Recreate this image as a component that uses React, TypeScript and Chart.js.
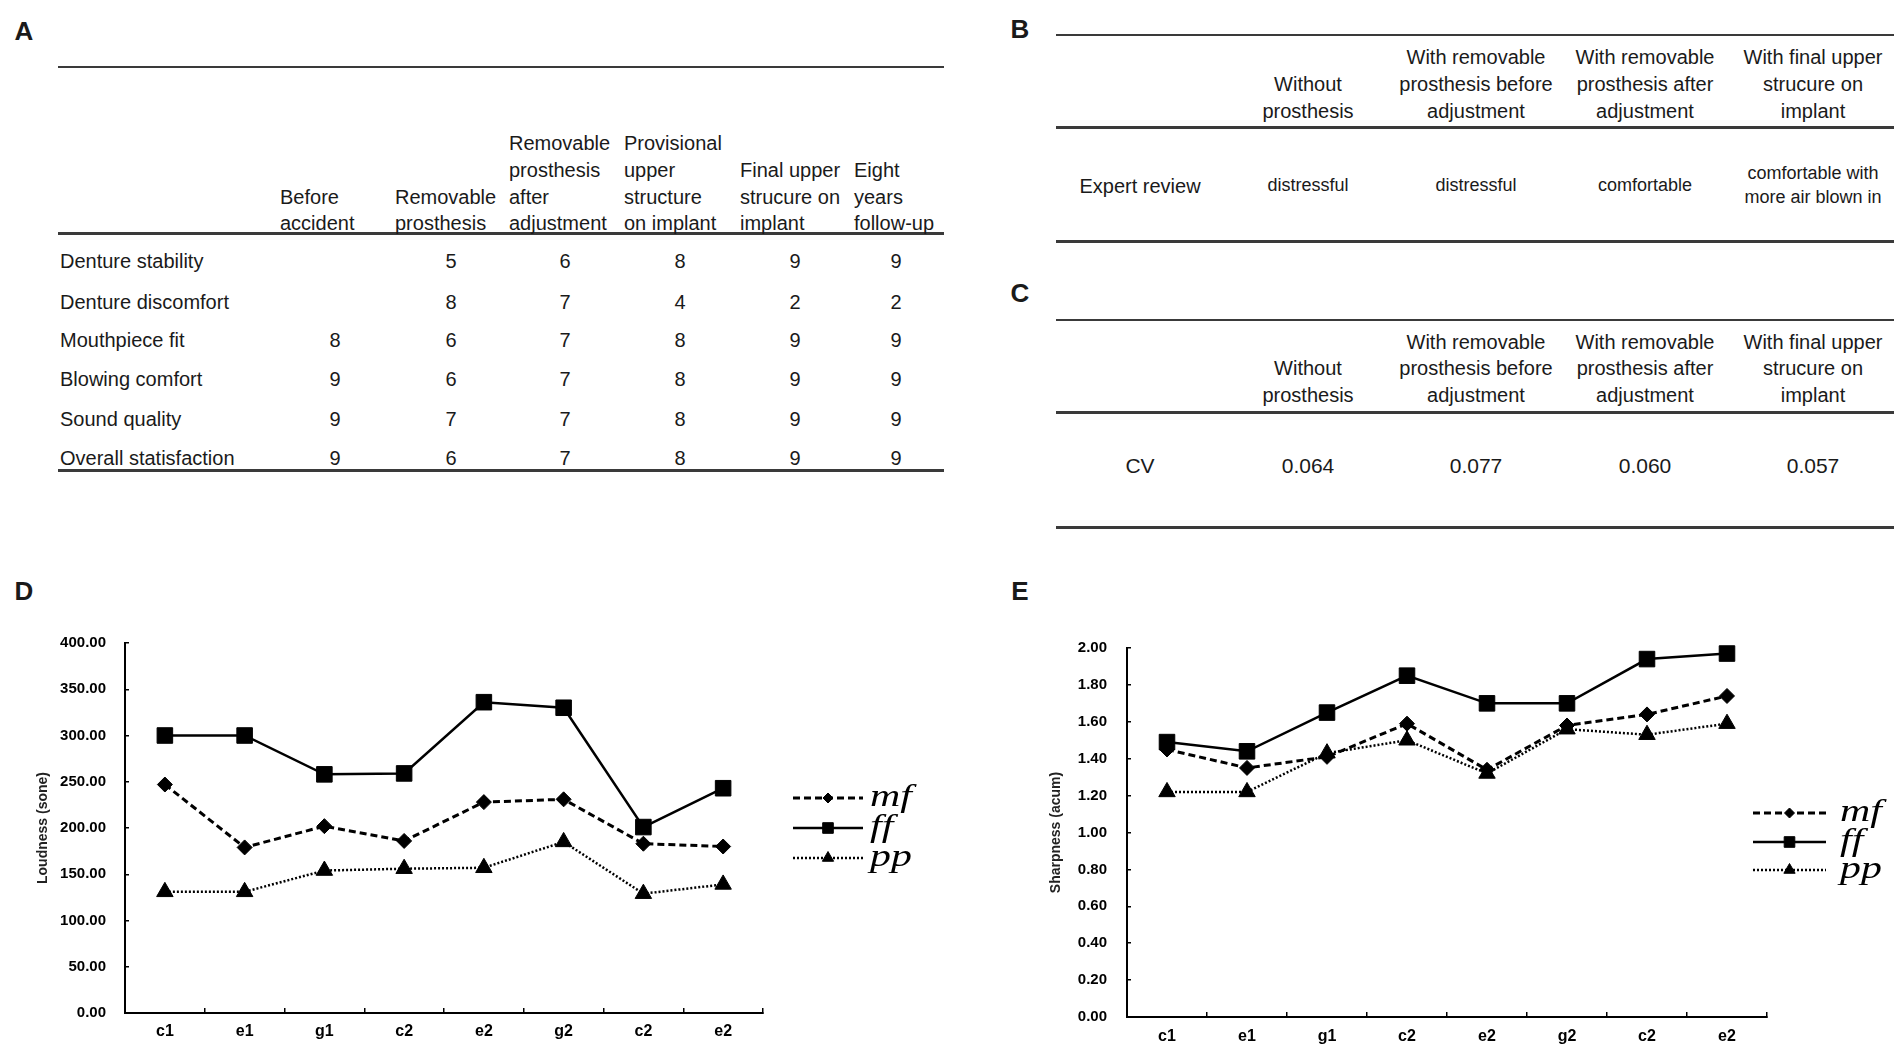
import React, { useEffect, useRef } from 'react';
import { Chart, registerables } from 'chart.js';
import { drawPoint } from 'chart.js/helpers';

Chart.register(...registerables);

// ---------------- Data ----------------
const panelLetters = ['A', 'B', 'C', 'D', 'E'];

const tableAHeaders = [
  ['Before', 'accident'],
  ['Removable', 'prosthesis'],
  ['Removable', 'prosthesis', 'after', 'adjustment'],
  ['Provisional', 'upper', 'structure', 'on implant'],
  ['Final upper', 'strucure on', 'implant'],
  ['Eight', 'years', 'follow-up'],
];
const tableARows = [
  'Denture stability',
  'Denture discomfort',
  'Mouthpiece fit',
  'Blowing comfort',
  'Sound quality',
  'Overall statisfaction',
];
const tableAValues = [
  ['', '5', '6', '8', '9', '9'],
  ['', '8', '7', '4', '2', '2'],
  ['8', '6', '7', '8', '9', '9'],
  ['9', '6', '7', '8', '9', '9'],
  ['9', '7', '7', '8', '9', '9'],
  ['9', '6', '7', '8', '9', '9'],
];

const conditionHeaders = [
  ['Without', 'prosthesis'],
  ['With removable', 'prosthesis before', 'adjustment'],
  ['With removable', 'prosthesis after', 'adjustment'],
  ['With final upper', 'strucure on', 'implant'],
];
const tableBRowLabel = 'Expert review';
const tableBValues = [['distressful'], ['distressful'], ['comfortable'], ['comfortable with', 'more air blown in']];
const tableCRowLabel = 'CV';
const tableCValues = ['0.064', '0.077', '0.060', '0.057'];

const noteLabels = ['c1', 'e1', 'g1', 'c2', 'e2', 'g2', 'c2', 'e2'];
const seriesNames = ['mf', 'ff', 'pp'];

const loudnessMf = [247, 179, 202, 186, 228, 231, 183, 180];
const loudnessFf = [300, 300, 258, 259, 336, 330, 201, 243];
const loudnessPp = [131, 131, 154, 156, 157, 185, 129, 139];

const sharpnessMf = [1.45, 1.35, 1.41, 1.59, 1.34, 1.58, 1.64, 1.74];
const sharpnessFf = [1.49, 1.44, 1.65, 1.85, 1.70, 1.70, 1.94, 1.97];
const sharpnessPp = [1.22, 1.22, 1.43, 1.50, 1.32, 1.56, 1.53, 1.59];

// ---------------- Styles ----------------
const SANS = '"Liberation Sans", Arial, sans-serif';
const AXIS_FONT = '"Liberation Sans Narrow", "Liberation Sans", Arial, sans-serif';
const TEXT = '#1a1a1a';
const RULE = '#3a3a3a';

const seriesStyles = [
  { dash: [7, 4], width: 3, point: 'rectRot', radius: 7.5, legendRadius: 5 },
  { dash: [], width: 2.5, point: 'rect', radius: 11, legendRadius: 7.5 },
  { dash: [2, 2], width: 2.5, point: 'triangle', radius: 9.5, legendRadius: 6.5 },
];

// ---------------- Helpers ----------------
type TxtProps = { x: number; y: number; text: string; align?: 'left' | 'center'; size?: number; weight?: number };
function Txt({ x, y, text, align = 'left', size = 20, weight = 400 }: TxtProps) {
  const w = 400;
  return (
    <div
      style={{
        position: 'absolute',
        left: align === 'center' ? x - w / 2 : x,
        top: y - size * 0.62,
        width: align === 'center' ? w : undefined,
        textAlign: align,
        fontSize: size,
        lineHeight: `${size * 1.2}px`,
        fontWeight: weight,
        fontFamily: SANS,
        color: TEXT,
        whiteSpace: 'nowrap',
      }}
    >
      {text}
    </div>
  );
}

function Rule({ x1, x2, y, h = 2 }: { x1: number; x2: number; y: number; h?: number }) {
  return <div style={{ position: 'absolute', left: x1, top: y - h / 2, width: x2 - x1, height: h, background: RULE }} />;
}

type ChartCfg = {
  left: number;
  top: number;
  width: number;
  height: number;
  padTop: number;
  padRight: number;
  yWidth: number;
  xHeight: number;
  yPad: number;
  xPad: number;
  titlePad: number;
  yMax: number;
  yStep: number;
  yTitle: string;
  series: number[][];
  legend: { x1: number; x2: number; tx: number; ys: number[] };
};

function LineChart({ cfg }: { cfg: ChartCfg }) {
  const ref = useRef<HTMLCanvasElement | null>(null);
  useEffect(() => {
    if (!ref.current) return;
    const legendPlugin = {
      id: 'sideLegend',
      afterDraw(chart: any) {
        const ctx = chart.ctx as CanvasRenderingContext2D;
        seriesNames.forEach((name, i) => {
          const st = seriesStyles[i];
          const y = cfg.legend.ys[i];
          ctx.save();
          ctx.strokeStyle = '#000';
          ctx.fillStyle = '#000';
          ctx.lineWidth = st.width;
          ctx.setLineDash(st.dash);
          ctx.beginPath();
          ctx.moveTo(cfg.legend.x1, y);
          ctx.lineTo(cfg.legend.x2, y);
          ctx.stroke();
          ctx.setLineDash([]);
          ctx.lineWidth = 1;
          drawPoint(ctx, { pointStyle: st.point as any, radius: st.legendRadius, borderWidth: 1, rotation: 0 } as any, (cfg.legend.x1 + cfg.legend.x2) / 2, y);
          ctx.font = 'italic 31px "Liberation Serif", "Times New Roman", serif';
          ctx.textBaseline = 'middle';
          ctx.textAlign = 'left';
          ctx.translate(cfg.legend.tx, y);
          ctx.scale(1.35, 1);
          ctx.fillText(name, 0, 0);
          ctx.restore();
        });
      },
    };
    const chart = new Chart(ref.current, {
      type: 'line',
      data: {
        labels: noteLabels,
        datasets: cfg.series.map((data, i) => ({
          label: seriesNames[i],
          data,
          borderColor: '#000',
          backgroundColor: '#000',
          borderWidth: seriesStyles[i].width,
          borderDash: seriesStyles[i].dash,
          pointStyle: seriesStyles[i].point as any,
          pointRadius: seriesStyles[i].radius,
          pointBackgroundColor: '#000',
          pointBorderColor: '#000',
          pointBorderWidth: 1,
          tension: 0,
          fill: false,
          clip: false as any,
        })),
      },
      options: {
        animation: false,
        responsive: false,
        maintainAspectRatio: false,
        events: [],
        layout: { padding: { left: 0, top: cfg.padTop, right: cfg.padRight, bottom: 0 } },
        plugins: { legend: { display: false }, tooltip: { enabled: false }, title: { display: false } },
        scales: {
          x: {
            type: 'category',
            offset: true,
            grid: { display: true, offset: true, drawOnChartArea: false, drawTicks: true, tickLength: -5, color: '#000', lineWidth: 1.5 },
            border: { display: true, color: '#000', width: 2 },
            ticks: { color: '#000', font: { family: AXIS_FONT, size: 16, weight: 'bold' }, padding: cfg.xPad, maxRotation: 0, autoSkip: false },
            afterFit: (s: any) => {
              s.height = cfg.xHeight;
            },
          },
          y: {
            min: 0,
            max: cfg.yMax,
            ticks: {
              stepSize: cfg.yStep,
              color: '#000',
              font: { family: AXIS_FONT, size: 15, weight: 'bold' },
              padding: cfg.yPad,
              callback: (v: any) => Number(v).toFixed(2),
            },
            grid: { display: true, drawOnChartArea: false, drawTicks: true, tickLength: -4, color: '#000', lineWidth: 1.5 },
            border: { display: true, color: '#000', width: 2 },
            title: {
              display: true,
              text: cfg.yTitle,
              color: '#222',
              font: { family: SANS, size: 14, weight: 'bold' },
              padding: { top: cfg.titlePad, bottom: 0 },
            },
            afterFit: (s: any) => {
              s.width = cfg.yWidth;
            },
          },
        },
      } as any,
      plugins: [legendPlugin],
    });
    return () => chart.destroy();
  }, [cfg]);
  return (
    <canvas
      ref={ref}
      width={cfg.width}
      height={cfg.height}
      style={{ position: 'absolute', left: cfg.left, top: cfg.top, width: cfg.width, height: cfg.height }}
    />
  );
}

const chartD: ChartCfg = {
  left: 0,
  top: 600,
  width: 960,
  height: 450,
  padTop: 43,
  padRight: 197,
  yWidth: 125,
  xHeight: 37,
  yPad: 23,
  xPad: 14,
  titlePad: 35,
  yMax: 400,
  yStep: 50,
  yTitle: 'Loudness (sone)',
  series: [loudnessMf, loudnessFf, loudnessPp],
  legend: { x1: 793, x2: 863, tx: 870, ys: [198, 228, 258] },
};

const chartE: ChartCfg = {
  left: 960,
  top: 600,
  width: 944,
  height: 450,
  padTop: 48,
  padRight: 137,
  yWidth: 167,
  xHeight: 33,
  yPad: 24,
  xPad: 15,
  titlePad: 88,
  yMax: 2,
  yStep: 0.2,
  yTitle: 'Sharpness (acum)',
  series: [sharpnessMf, sharpnessFf, sharpnessPp],
  legend: { x1: 793, x2: 866, tx: 880, ys: [213, 242, 270] },
};

// ---------------- Layout ----------------
const aHeaderLeft = [280, 395, 509, 624, 740, 854];
const aValueCenter = [335, 451, 565, 680, 795, 896];
const aHeaderLineY = [143, 170, 197, 223];
const aRowY = [261, 302, 340, 379, 419, 458];
const bcColCenter = [1308, 1476, 1645, 1813];

function TableA() {
  const out: React.ReactNode[] = [];
  tableAHeaders.forEach((lines, c) => {
    const start = aHeaderLineY.length - lines.length;
    lines.forEach((t, k) => out.push(<Txt key={`ah${c}-${k}`} x={aHeaderLeft[c]} y={aHeaderLineY[start + k]} text={t} size={20} />));
  });
  tableARows.forEach((r, i) => {
    out.push(<Txt key={`ar${i}`} x={60} y={aRowY[i]} text={r} size={20} />);
    tableAValues[i].forEach((v, c) => {
      if (v) out.push(<Txt key={`av${i}-${c}`} x={aValueCenter[c]} y={aRowY[i]} text={v} align="center" size={20} />);
    });
  });
  return (
    <>
      <Rule x1={58} x2={944} y={67} h={2} />
      <Rule x1={58} x2={944} y={233} h={3} />
      <Rule x1={58} x2={944} y={470} h={3} />
      {out}
    </>
  );
}

function CondHeader({ ys, prefix }: { ys: number[]; prefix: string }) {
  const out: React.ReactNode[] = [];
  conditionHeaders.forEach((lines, c) => {
    const start = ys.length - lines.length;
    lines.forEach((t, k) => out.push(<Txt key={`${prefix}${c}-${k}`} x={bcColCenter[c]} y={ys[start + k]} text={t} align="center" size={20} />));
  });
  return <>{out}</>;
}

function TableB() {
  return (
    <>
      <Rule x1={1056} x2={1894} y={35} h={2} />
      <Rule x1={1056} x2={1894} y={127} h={3} />
      <Rule x1={1056} x2={1894} y={241} h={3} />
      <CondHeader ys={[57, 84, 111]} prefix="bh" />
      <Txt x={1140} y={186} text={tableBRowLabel} align="center" size={20} />
      {tableBValues.map((lines, c) =>
        lines.map((t, k) => (
          <Txt key={`bv${c}-${k}`} x={bcColCenter[c]} y={lines.length === 1 ? 186 : 174 + k * 24} text={t} align="center" size={18} />
        ))
      )}
    </>
  );
}

function TableC() {
  return (
    <>
      <Rule x1={1056} x2={1894} y={320} h={2} />
      <Rule x1={1056} x2={1894} y={412} h={3} />
      <Rule x1={1056} x2={1894} y={527} h={3} />
      <CondHeader ys={[342, 368, 395]} prefix="ch" />
      <Txt x={1140} y={466} text={tableCRowLabel} align="center" size={21} />
      {tableCValues.map((t, c) => (
        <Txt key={`cv${c}`} x={bcColCenter[c]} y={466} text={t} align="center" size={21} />
      ))}
    </>
  );
}

const letterPos = [
  [24, 30],
  [1020, 28],
  [1020, 292],
  [24, 590],
  [1020, 590],
];

export default function App() {
  return (
    <div style={{ position: 'absolute', left: 0, top: 0, width: 1904, height: 1050, background: '#fff', overflow: 'hidden' }}>
      {panelLetters.map((l, i) => (
        <Txt key={l} x={letterPos[i][0]} y={letterPos[i][1] + 2} text={l} align="center" size={26} weight={700} />
      ))}
      <TableA />
      <TableB />
      <TableC />
      <LineChart cfg={chartD} />
      <LineChart cfg={chartE} />
    </div>
  );
}
